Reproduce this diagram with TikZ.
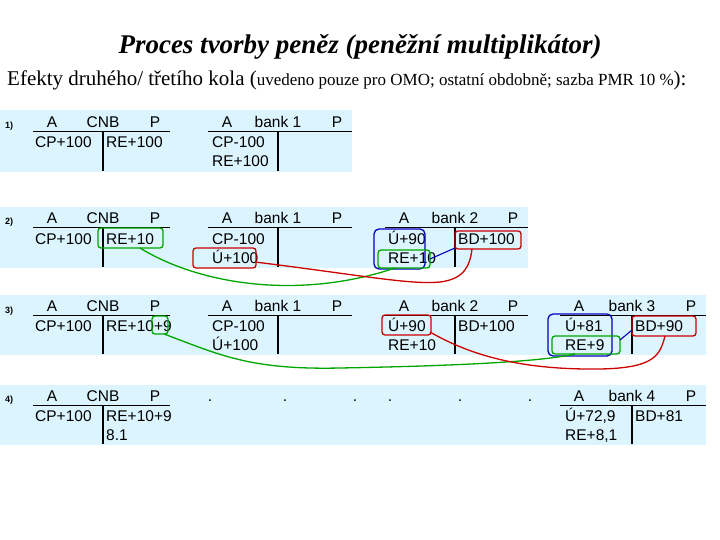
\documentclass[tikz,border=0pt]{standalone}
\usepackage{fontspec}
\setmainfont{Liberation Serif}
\newfontfamily\tabfont{Liberation Sans}
\begin{document}
\begin{tikzpicture}[x=1pt,y=-1pt,
  band/.style={fill=cyan!14,draw=none},
  t/.style={font=\tabfont\fontsize{15.5}{15.5}\selectfont,inner sep=0pt,anchor=base west},
  h/.style={font=\tabfont\fontsize{15.5}{15.5}\selectfont,inner sep=0pt,anchor=base},
  lbl/.style={font=\tabfont\bfseries\fontsize{9}{9}\selectfont,inner sep=0pt,anchor=base west},
  rule/.style={line width=1pt},
  vrule/.style={line width=2.2pt},
  gbox/.style={draw=green!65!black,line width=1.3pt,rounded corners=3pt},
  rbox/.style={draw=red!80!black,line width=1.3pt,rounded corners=3pt},
  bbox/.style={draw=blue!75!black,line width=1.3pt,rounded corners=5pt},
  gl/.style={green!65!black,line width=1.3pt},
  rl/.style={red!80!black,line width=1.3pt},
  bl/.style={blue!75!black,line width=1.1pt}]
\useasboundingbox (0,0) rectangle (720,540);
\node[font=\itshape\bfseries\fontsize{27}{27}\selectfont,anchor=base] (title) at (360,54) {Proces tvorby peněz (peněžní multiplikátor)};
\node[anchor=base west,inner sep=0pt] (sub) at (7,86) {\fontsize{21}{21}\selectfont Efekty druhého/ třetího kola (\fontsize{17}{17}\selectfont uvedeno pouze pro OMO; ostatní obdobně; sazba PMR 10 \%\fontsize{21}{21}\selectfont):};
% bands
\fill[band] (0,110) rectangle (352,172);
\fill[band] (0,207) rectangle (528,268);
\fill[band] (0,295) rectangle (706,355);
\fill[band] (0,385) rectangle (706,445);
\newcommand{\tacc}[5]{%
  \node[h] at (#1+19,#2) {A};
  \node[h] at (#4,#2) {#3};
  \node[h] at (#5-15,#2) {P};
  \draw[rule] (#1,#2+4) -- (#5,#2+4);
  \draw[vrule] (#4,#2+4) -- (#4,#2+43);}
% band 1
\node[lbl] (l1) at (5,129) {1)};
\tacc{33}{128}{CNB}{103}{170}
\tacc{208}{128}{bank 1}{278}{352}
\node[t] (a1) at (35,148) {CP+100};
\node[t] (a2) at (106,148) {RE+100};
\node[t] (a3) at (212,148) {CP-100};
\node[t] (a4) at (212,167) {RE+100};
% band 2
\node[lbl] (l2) at (5,225) {2)};
\tacc{33}{224}{CNB}{103}{170}
\tacc{208}{224}{bank 1}{278}{352}
\tacc{385}{224}{bank 2}{455}{528}
\node[t] (b1) at (35,244) {CP+100};
\node[t] (b2) at (106,244) {RE+10};
\node[t] (b3) at (212,244) {CP-100};
\node[t] (b4) at (212,263) {Ú+100};
\node[t] (b5) at (388,244) {Ú+90};
\node[t] (b6) at (388,263) {RE+10};
\node[t] (b7) at (458,244) {BD+100};
\draw[gbox] (98,228) rectangle (163,248); \coordinate (gb2) at (140,248);
\draw[rbox] (193,248) rectangle (256,268); \coordinate (rb4) at (255,262);
\draw[bbox] (374,229) rectangle (425,269);
\draw[gbox] (378,250) rectangle (430,268); \coordinate (gb6) at (395,268);
\draw[rbox] (455,231) rectangle (521,249); \coordinate (rb7) at (472,249);
\draw[bl] (430,259) -- (455,248);
\draw[gl] (gb2) .. controls (200,285) and (300,300) .. (gb6);
\draw[rl] (rb4) .. controls (360,275) and (410,285) .. (440,282) .. controls (465,279) and (470,265) .. (rb7);
% band 3
\node[lbl] (l3) at (5,313) {3)};
\tacc{33}{311}{CNB}{103}{170}
\tacc{208}{311}{bank 1}{278}{352}
\tacc{385}{311}{bank 2}{455}{528}
\tacc{560}{311}{bank 3}{632}{706}
\node[t] (c1) at (35,331) {CP+100};
\node[t] (c2) at (106,331) {RE+10+9};
\node[t] (c3) at (212,331) {CP-100};
\node[t] (c4) at (212,350) {Ú+100};
\node[t] (c5) at (388,331) {Ú+90};
\node[t] (c6) at (388,350) {RE+10};
\node[t] (c7) at (458,331) {BD+100};
\node[t] (c8) at (565,331) {Ú+81};
\node[t] (c9) at (565,350) {RE+9};
\node[t] (c10) at (635,331) {BD+90};
\draw[gbox] (152,316) rectangle (168,334); \coordinate (gc2) at (164,334);
\draw[rbox] (382,315) rectangle (431,335); \coordinate (rc5) at (430,332);
\draw[bbox] (548,314) rectangle (612,356);
\draw[gbox] (552,336) rectangle (620,354); \coordinate (gc9) at (575,354);
\draw[rbox] (632,316) rectangle (696,336); \coordinate (rc10) at (665,336);
\draw[bl] (620,340) -- (632,330);
\draw[gl] (gc2) .. controls (220,355) and (250,370) .. (340,368) .. controls (450,366) and (540,362) .. (gc9);
\draw[rl] (rc5) .. controls (470,355) and (520,370) .. (600,369) .. controls (655,368) and (660,355) .. (rc10);
% band 4
\node[lbl] (l4) at (5,402) {4)};
\tacc{33}{401}{CNB}{103}{170}
\tacc{560}{401}{bank 4}{632}{706}
\node[t] (d1) at (35,421) {CP+100};
\node[t] (d2) at (106,421) {RE+10+9};
\node[t] (d3) at (106,440) {8.1};
\node[t] (d4) at (565,421) {Ú+72,9};
\node[t] (d5) at (565,440) {RE+8,1};
\node[t] (d6) at (635,421) {BD+81};
\foreach \i/\xx in {1/210,2/285,3/355,4/390,5/460,6/530}
  \node[h] (dot\i) at (\xx,401) {.};
\end{tikzpicture}
\end{document}
